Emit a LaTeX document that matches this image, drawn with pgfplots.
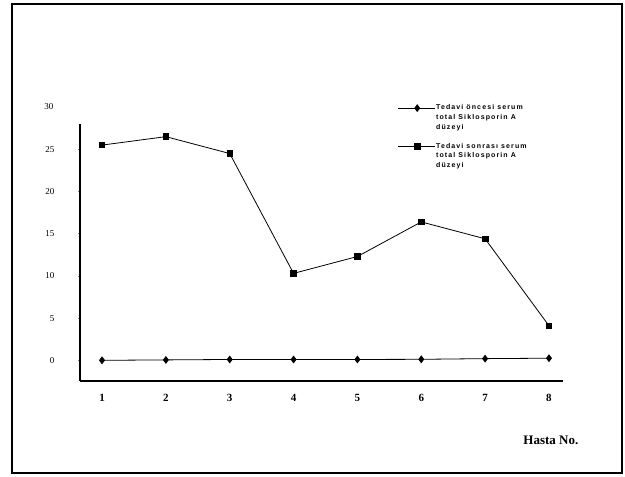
\documentclass[border=0pt]{standalone}
\usepackage{fontspec}
\setmainfont{Liberation Serif}
\newfontfamily\legfont[LetterSpace=16]{Liberation Sans}
\usepackage{pgfplots}
\pgfplotsset{compat=1.18}
\begin{document}
\begin{tikzpicture}[x=1pt,y=1pt]
\path (0,0) rectangle (625,477);
\draw[line width=1.3pt] (12,4) rectangle (622,473);
\begin{axis}[
  at={(80pt,96pt)}, anchor=south west,
  scale only axis, width=483pt, height=257pt,
  xmin=0.655, xmax=8.22, ymin=-2.45, ymax=28,
  axis lines=left, axis line style={line width=1.6pt, -},
  clip=false,
  xtick={1,...,8},
  ytick={0,5,10,15,20,25},
  /pgf/number format/assume math mode=true,
  xticklabel style={font=\bfseries\fontsize{11}{13}\selectfont, yshift=-8pt},
  yticklabel style={font=\fontsize{9}{10}\selectfont, xshift=-20pt},
  major tick length=2pt,
  x tick style={draw=none},
  y tick style={line width=0.6pt},
  tick align=outside,
  xlabel={Hasta No.},
  xlabel style={font=\bfseries\fontsize{13}{15}\selectfont, at={(rel axis cs:0.975,-0.23)}, anchor=center},
  legend style={draw=none, fill=none, at={(axis cs:5.63,30.35)}, anchor=north west,
    font=\legfont\bfseries\fontsize{7}{8}\selectfont,
    row sep=2.1pt, inner sep=0pt,
    nodes={text height=5pt, text depth=1.5pt, inner sep=0.5pt}},
  legend cell align=left,
  legend image code/.code={\draw[mark repeat=2,mark phase=2] plot coordinates {(0pt,0pt) (19pt,0pt) (37pt,0pt)};},
]
\addplot[black, line width=0.8pt, mark=diamond*, mark size=3.3pt, mark options={solid, fill=black}]
  coordinates {(1,0) (2,0.05) (3,0.1) (4,0.1) (5,0.1) (6,0.12) (7,0.2) (8,0.25)};
\addlegendentry{Tedavi öncesi serum}
\addlegendimage{empty legend}\addlegendentry{total Siklosporin A}
\addlegendimage{empty legend}\addlegendentry{düzeyi}
\addlegendimage{empty legend}\addlegendentry{}
\addplot[black, line width=0.8pt, mark=square*, mark size=2.8pt, mark options={solid, fill=black}]
  coordinates {(1,25.5) (2,26.5) (3,24.5) (4,10.3) (5,12.3) (6,16.4) (7,14.4) (8,4.1)};
\addlegendentry{Tedavi sonrası serum}
\addlegendimage{empty legend}\addlegendentry{total Siklosporin A}
\addlegendimage{empty legend}\addlegendentry{düzeyi}
\end{axis}
\node[font=\fontsize{9}{10}\selectfont, anchor=east] at (57,370) {30};
\end{tikzpicture}
\end{document}
